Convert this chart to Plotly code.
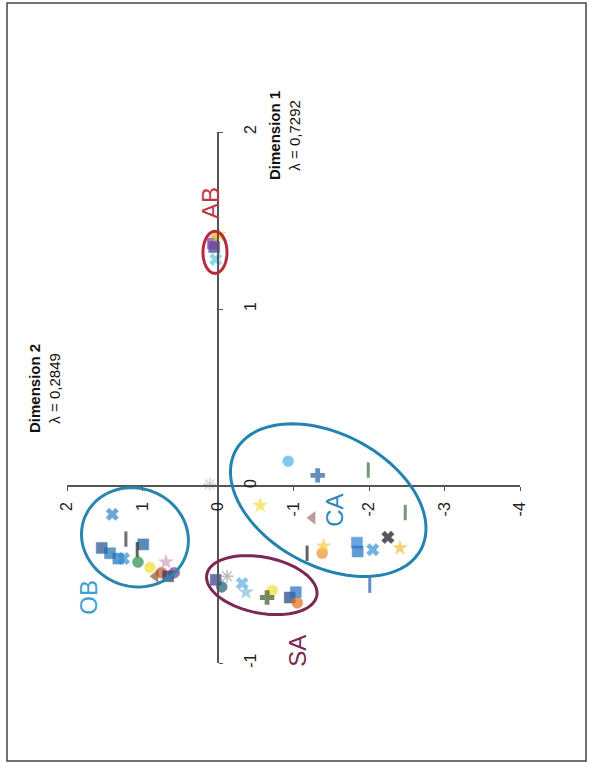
import numpy as np
import plotly.graph_objects as go

# ---- data ----
groups = ["AB"] * 5 + ["OB"] * 15 + ["SA"] * 10 + ["CA"] * 16
dim2 = [0.03, 0.05, 0.07, 0.03, -0.01,
        1.40, 1.22, 1.54, 1.43, 1.32, 1.25, 0.99, 1.07, 1.06, 0.90, 0.75, 0.83, 0.66, 0.58, 0.69,
        0.03, -0.05, -0.12, -0.32, -0.37, -0.72, -0.65, -0.95, -1.03, -1.05,
        -0.93, -1.32, -1.99, 0.11, -0.56, -1.25, -1.18, -1.38, -1.40, -1.84, -1.85, -2.05, -2.25, -2.41, -2.48, -2.01]
dim1 = [1.28, 1.35, 1.37, 1.41, 1.42,
        -0.16, -0.30, -0.35, -0.38, -0.41, -0.41, -0.33, -0.36, -0.43, -0.46, -0.49, -0.51, -0.51, -0.49, -0.43,
        -0.53, -0.57, -0.51, -0.55, -0.60, -0.59, -0.63, -0.63, -0.60, -0.66,
        0.14, 0.06, 0.09, 0.01, -0.11, -0.18, -0.38, -0.38, -0.34, -0.32, -0.37, -0.36, -0.29, -0.35, -0.15, -0.56]
symbols = ["x", "square", "square", "triangle-left", "star",
           "x", "line-ns", "square", "square", "square", "x", "square", "line-ns", "circle", "circle",
           "circle", "triangle-left", "square", "circle", "star",
           "square", "circle", "asterisk", "x", "star", "circle", "cross", "square", "square", "circle",
           "circle", "cross", "line-ns", "asterisk", "star", "triangle-left", "line-ns", "circle", "star",
           "square", "square", "x", "x", "star", "line-ns", "line-ns"]
colors = ["#5bc8e8", "#2b3a8c", "#7b3f9e", "#f0a030", "#f5d020",
          "#2f7fc8", "#333333", "#1f4f8f", "#1f6fb0", "#2070b0", "#2f8fd0", "#1a5a90", "#222222", "#2a8a4a", "#f0e030",
          "#d05020", "#8a5a30", "#203070", "#6a3a8a", "#d0a0c0",
          "#2a3a8a", "#205a70", "#a0a0a0", "#60b0e0", "#80c0e0", "#f0e040", "#3a5a20", "#203a80", "#2070c0", "#e07020",
          "#50b0e8", "#2060a0", "#3a6a3a", "#c0c0c0", "#f0e040", "#a07070", "#222222", "#f09030", "#f0d040",
          "#2a7fd0", "#2070c0", "#3a90d0", "#111111", "#f0c040", "#3a6a3a", "#2060a0"]

x_ticks = [2, 1, 0, -1, -2, -3, -4]
y_ticks = [-1, 0, 1, 2]

cluster_names = ["OB", "AB", "CA", "SA"]
cluster_dim2 = [1.10, 0.04, -1.46, -0.58]
cluster_dim1 = [-0.29, 1.32, -0.08, -0.56]
label_dim2 = [1.72, 0.09, -1.55, -1.06]
label_dim1 = [-0.63, 1.60, -0.14, -0.93]

# ---- layout geometry ----
W, H = 590, 763
ML, MR, MT, MB = 67, 70, 132, 100
PW, PH = W - ML - MR, H - MT - MB
X_RANGE = [2, -4]
Y_RANGE = [-1, 2]
PX = PW / abs(X_RANGE[1] - X_RANGE[0])
PY = PH / (Y_RANGE[1] - Y_RANGE[0])

ell_style = {
    "OB": dict(a=54, b=49, ang=20, color="#2a86ad"),
    "AB": dict(a=12, b=21, ang=0, color="#b52a3e"),
    "CA": dict(a=105, b=66, ang=28, color="#2383b0"),
    "SA": dict(a=56, b=28, ang=11, color="#7b2855"),
}
label_color = {"OB": "#3a9fd0", "AB": "#c0394b", "CA": "#2a8ac0", "SA": "#7b2855"}


def ellipse_path(c2, c1, a, b, ang):
    t = np.linspace(0, 2 * np.pi, 120)
    th = np.radians(ang)
    dx = a * np.cos(t) * np.cos(th) - b * np.sin(t) * np.sin(th)
    dy = a * np.cos(t) * np.sin(th) + b * np.sin(t) * np.cos(th)
    xs = c2 - dx / PX
    ys = c1 - dy / PY
    return "M " + " L ".join(f"{x:.4f},{y:.4f}" for x, y in zip(xs, ys)) + " Z"


def px2paper_x(px):
    return (px - ML) / PW


def px2paper_y(py):
    return (H - MB - py) / PH


sizes = []
lw = []
for s in symbols:
    if s == "line-ns":
        sizes.append(11); lw.append(3)
    elif s == "asterisk":
        sizes.append(11); lw.append(1.5)
    elif s == "cross":
        sizes.append(12); lw.append(0)
    else:
        sizes.append(11); lw.append(0.5)

fig = go.Figure()
fig.add_trace(go.Scatter(
    x=dim2, y=dim1, mode="markers", hoverinfo="skip",
    marker=dict(symbol=symbols, color=colors, size=sizes,
                line=dict(color=colors, width=lw)),
    showlegend=False, cliponaxis=False,
))

shapes = []
for name, c2, c1 in zip(cluster_names, cluster_dim2, cluster_dim1):
    st = ell_style[name]
    shapes.append(dict(type="path", xref="x", yref="y",
                       path=ellipse_path(c2, c1, st["a"], st["b"], st["ang"]),
                       line=dict(color=st["color"], width=3), layer="above"))
# page border
shapes.append(dict(type="rect", xref="paper", yref="paper",
                   x0=px2paper_x(7), x1=px2paper_x(586),
                   y0=px2paper_y(761), y1=px2paper_y(3),
                   line=dict(color="#444444", width=1.5)))

annotations = []
for name, x, y in zip(cluster_names, label_dim2, label_dim1):
    annotations.append(dict(x=x, y=y, xref="x", yref="y", text=name, showarrow=False,
                            xanchor="center", yanchor="middle",
                            textangle=-90, font=dict(family="Liberation Sans", size=24,
                                                     color=label_color[name])))
annotations.append(dict(x=px2paper_x(44), y=px2paper_y(389), xref="paper", yref="paper",
                        xanchor="center", yanchor="middle",
                        text="<b>Dimension 2</b><br>λ = 0,2849", showarrow=False, textangle=-90,
                        font=dict(family="Liberation Sans", size=15, color="#111111")))
annotations.append(dict(x=px2paper_x(285), y=px2paper_y(136), xref="paper", yref="paper",
                        xanchor="center", yanchor="middle",
                        text="<b>Dimension 1</b><br>λ = 0,7292", showarrow=False, textangle=-90,
                        font=dict(family="Liberation Sans", size=15, color="#111111")))

axis_font = dict(family="Liberation Sans", size=16, color="#222222")
fig.update_layout(
    width=W, height=H, margin=dict(l=ML, r=MR, t=MT, b=MB),
    paper_bgcolor="white", plot_bgcolor="white",
    shapes=shapes, annotations=annotations,
    xaxis=dict(range=X_RANGE, tickvals=x_ticks, ticktext=[str(v) for v in x_ticks],
               anchor="free", position=(0 - Y_RANGE[0]) / (Y_RANGE[1] - Y_RANGE[0]),
               showline=True, linecolor="#555555", linewidth=1.5, showgrid=False, zeroline=False,
               ticks="outside", ticklen=4, tickcolor="#555555", tickangle=-90, tickfont=axis_font,
               ticklabelstandoff=5),
    yaxis=dict(range=Y_RANGE, tickvals=y_ticks, ticktext=[str(v) for v in y_ticks],
               anchor="free", position=(X_RANGE[0] - 0) / (X_RANGE[0] - X_RANGE[1]), side="right",
               showline=True, linecolor="#555555", linewidth=1.5, showgrid=False, zeroline=False,
               ticks="outside", ticklen=4, tickcolor="#555555", tickangle=-90, tickfont=axis_font,
               ticklabelstandoff=14),
)
fig.write_html("out.html", config={"displayModeBar": False},
               post_script="document.body.style.margin='0';document.body.style.overflow='hidden';"
                           "document.documentElement.style.overflow='hidden';")
